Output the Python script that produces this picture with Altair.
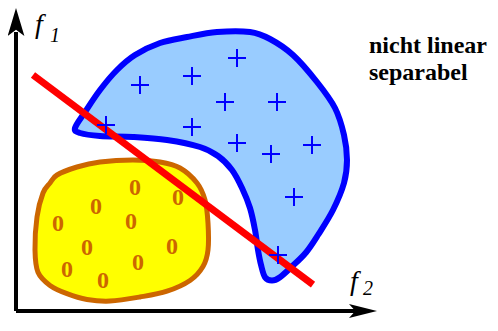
import altair as alt
import pandas as pd

# Blue region outline (reference pixel coordinates)
blue_x = [75, 85, 100, 117, 135, 160, 187, 217, 250, 270, 293, 317, 335, 344, 347, 344, 333, 318, 306, 292, 280, 272, 265, 261, 258, 255, 250, 242, 232, 218, 200, 167, 133, 100, 80]
blue_y = [128, 112, 90, 70, 55, 43, 37, 32, 32, 39, 55, 82, 108, 135, 160, 183, 210, 235, 253, 270, 283, 287, 283, 268, 250, 230, 208, 188, 170, 156, 147, 140, 137, 136, 133]

# Yellow region outline
yel_x = [50, 57, 77, 100, 133, 160, 180, 197, 205, 208, 208, 203, 190, 167, 140, 110, 87, 67, 50, 38, 35, 37, 43]
yel_y = [183, 175, 167, 162, 160, 162, 168, 183, 200, 223, 250, 270, 287, 300, 307, 312, 310, 303, 293, 277, 250, 217, 193]

# "+" samples
plus_x = [140, 192, 237, 225, 106, 192, 237, 277, 312, 271, 294, 278]
plus_y = [85, 76, 58, 102, 125, 127, 143, 102, 145, 154, 197, 256]

# "o" samples
o_x = [135, 178, 96, 58, 131, 87, 172, 138, 67, 103]
o_y = [188, 198, 207, 224, 222, 248, 247, 266, 274, 287]

# Separating line
line_x = [33, 313]
line_y = [75, 292]

# Axes (f1 vertical, f2 horizontal)
axis_x1 = [16, 16]
axis_y1 = [324, 324]
axis_x2 = [16, 362]
axis_y2 = [32, 324]

SERIF = "Liberation Serif, Times New Roman, Times, serif"

XS = alt.Scale(domain=[8, 490], range=[0, 482])
YS = alt.Scale(domain=[8, 250, 324], range=[0, 242, 303])


def X(f="x"):
    return alt.X(f"{f}:Q", scale=XS, axis=None)


def Y(f="y"):
    return alt.Y(f"{f}:Q", scale=YS, axis=None)


blue_df = pd.DataFrame({"x": blue_x, "y": blue_y, "i": range(len(blue_x))})
yel_df = pd.DataFrame({"x": yel_x, "y": yel_y, "i": range(len(yel_x))})
plus_df = pd.DataFrame({"x": plus_x, "y": plus_y})
o_df = pd.DataFrame({"x": o_x, "y": o_y})
line_df = pd.DataFrame({"x": line_x, "y": line_y})
axes_df = pd.DataFrame({"x": axis_x1, "y": axis_y2, "x2": axis_x2, "y2": axis_y1})

blue = alt.Chart(blue_df).mark_line(
    interpolate="cardinal-closed", fill="#99ccff", stroke="#0000ff", strokeWidth=6, strokeJoin="round"
).encode(x=X(), y=Y(), order="i:Q")

yellow = alt.Chart(yel_df).mark_line(
    interpolate="cardinal-closed", fill="#ffff00", stroke="#cc6600", strokeWidth=5, strokeJoin="round"
).encode(x=X(), y=Y(), order="i:Q")

red = alt.Chart(line_df).mark_line(color="#ff0000", strokeWidth=7, strokeCap="butt").encode(x=X(), y=Y())

plus = alt.Chart(plus_df).mark_point(
    shape="M-1,0L1,0M0,-1L0,1", filled=False, stroke="#0000ff", strokeWidth=2, size=324, opacity=1
).encode(x=X(), y=Y())

oo = alt.Chart(o_df).mark_text(
    text="0", font=SERIF, fontWeight="bold", fontSize=24, color="#cc6600", baseline="middle", align="center"
).encode(x=X(), y=Y())

axes = alt.Chart(axes_df).mark_rule(color="black", strokeWidth=4).encode(
    x=X("x"), y=Y("y"), x2="x2:Q", y2="y2:Q"
)

arr_y = alt.Chart(pd.DataFrame({"x": [16], "y": [22]})).mark_point(
    shape="M0,-1L0.6,1L0,0.55L-0.6,1Z", filled=True, color="black", size=784, opacity=1
).encode(x=X(), y=Y())

arr_x = alt.Chart(pd.DataFrame({"x": [363], "y": [324]})).mark_point(
    shape="M1,0L-1,-0.5L-0.55,0L-1,0.5Z", filled=True, color="black", size=784, opacity=1
).encode(x=X(), y=Y())

labels_big = pd.DataFrame({"x": [35, 350], "y": [33, 299], "t": ["f", "f"]})
labels_sub = pd.DataFrame({"x": [50, 363], "y": [42, 305], "t": ["1", "2"]})

lab_f = alt.Chart(labels_big).mark_text(
    font=SERIF, fontStyle="italic", fontSize=28, align="left", baseline="alphabetic", color="black"
).encode(x=X(), y=Y(), text="t:N")

lab_s = alt.Chart(labels_sub).mark_text(
    font=SERIF, fontStyle="italic", fontSize=20, align="left", baseline="alphabetic", color="black"
).encode(x=X(), y=Y(), text="t:N")

note = pd.DataFrame({"x": [369, 369], "y": [53, 80], "t": ["nicht linear", "separabel"]})
note_t = alt.Chart(note).mark_text(
    font=SERIF, fontWeight="bold", fontSize=24, align="left", baseline="alphabetic", color="black"
).encode(x=X(), y=Y(), text="t:N")

chart = alt.layer(blue, yellow, red, plus, oo, axes, arr_y, arr_x, lab_f, lab_s, note_t).properties(
    width=482, height=310, autosize=alt.AutoSizeParams(type="none"), padding=0
).configure_view(stroke=None)

chart.save("out.html", embed_options={"renderer": "svg", "actions": False})
